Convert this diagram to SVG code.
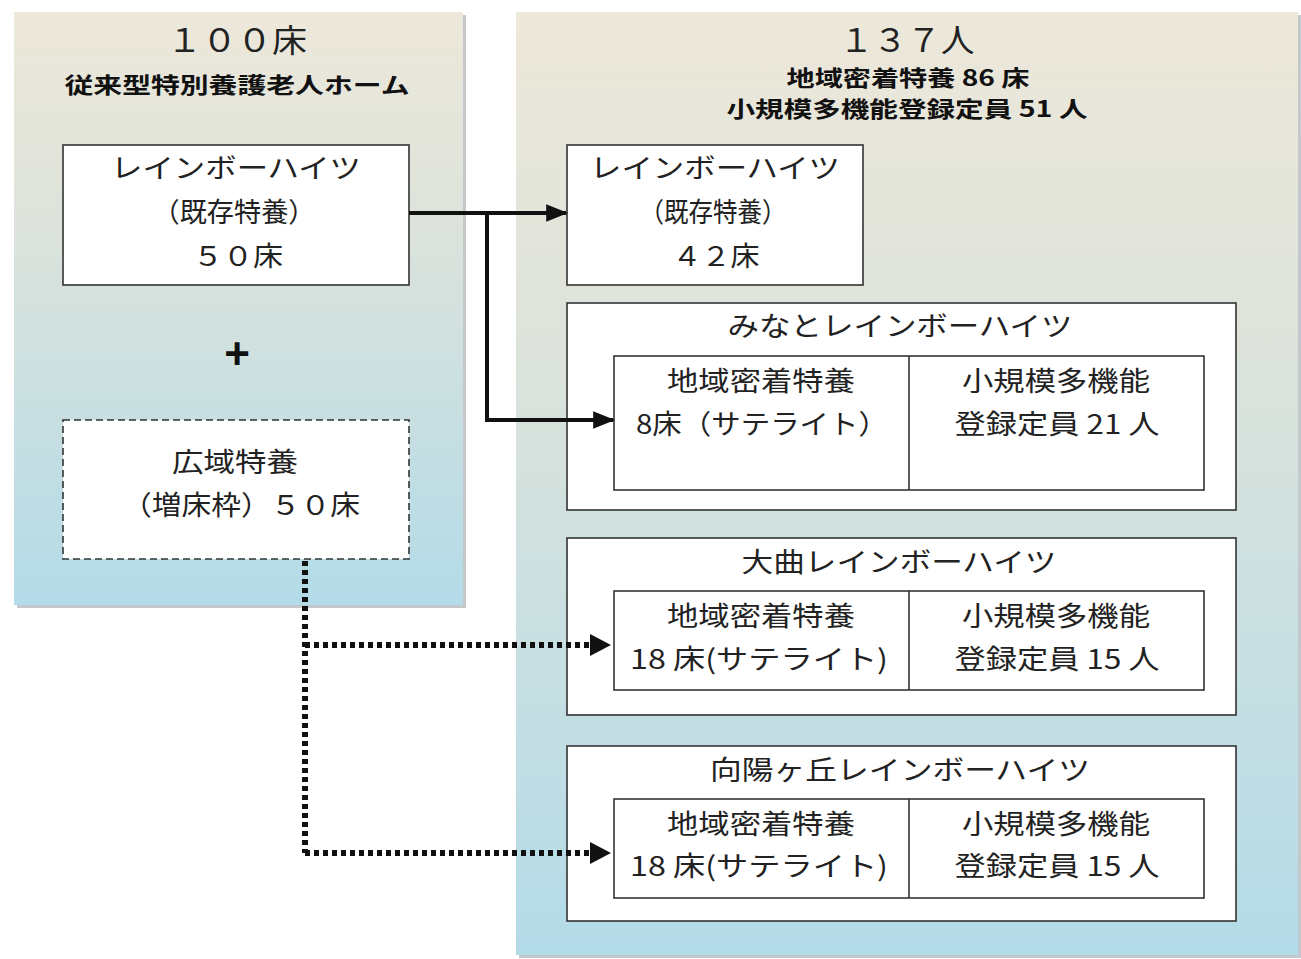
<svg xmlns="http://www.w3.org/2000/svg" width="1301" height="959" viewBox="0 0 1301 959">
<defs>
<linearGradient id="pg" x1="0" y1="0" x2="0" y2="1">
<stop offset="0" stop-color="#ede8da"/>
<stop offset="0.35" stop-color="#dde3db"/>
<stop offset="1" stop-color="#b3dbe8"/>
</linearGradient>
<marker id="ahs" viewBox="0 0 10 10" refX="9" refY="5" markerWidth="22" markerHeight="22" markerUnits="userSpaceOnUse" orient="auto">
<path d="M0,1 L10,5 L0,9 z" fill="#111"/>
</marker>
</defs>
<style>
.panel{fill:url(#pg);}
.shadow{fill:#9aa4a8;opacity:0.6;}
.box{fill:#fff;stroke:#333;stroke-width:1.6;}
.dbox{fill:#fff;stroke:#333;stroke-width:1.6;stroke-dasharray:7 4;}
.t{font-family:"Noto Sans CJK JP","Noto Sans CJK SC",sans-serif;fill:#222;text-anchor:middle;font-size:27px;}
.b{font-family:"Noto Sans CJK JP","Noto Sans CJK SC",sans-serif;fill:#111;text-anchor:middle;font-weight:bold;font-size:22px;}
.h{font-family:"Noto Sans CJK JP","Noto Sans CJK SC",sans-serif;fill:#222;text-anchor:middle;font-size:32px;}
.solid{fill:none;stroke:#111;stroke-width:4;}
.dot{fill:none;stroke:#111;stroke-width:6;stroke-dasharray:5 4;}
</style>
<rect width="1301" height="959" fill="#fff"/>

<g id="left-panel">
<rect class="shadow" x="17" y="15" width="449" height="593"/>
<rect class="panel" x="14" y="12" width="449" height="593"/>
<text class="h" x="237" y="52" textLength="140" lengthAdjust="spacingAndGlyphs">１００床</text>
<text class="b" x="237" y="93" font-size="25" textLength="345" lengthAdjust="spacingAndGlyphs">従来型特別養護老人ホーム</text>
<text x="237" y="369" font-family="Liberation Sans, sans-serif" font-size="44" font-weight="bold" text-anchor="middle" fill="#111">+</text>
</g>

<g id="right-panel">
<rect class="shadow" x="519" y="15" width="782" height="943"/>
<rect class="panel" x="516" y="12" width="782" height="943"/>
<text class="h" x="907" y="52" textLength="135" lengthAdjust="spacingAndGlyphs">１３７人</text>
<text class="b" x="908" y="86" textLength="243" lengthAdjust="spacingAndGlyphs">地域密着特養 86 床</text>
<text class="b" x="907" y="117" textLength="361" lengthAdjust="spacingAndGlyphs">小規模多機能登録定員 51 人</text>
</g>

<g id="rainbow-existing-50">
<rect class="box" x="63" y="145" width="346" height="140"/>
<text class="t" x="236" y="178" textLength="250" lengthAdjust="spacingAndGlyphs">レインボーハイツ</text>
<text class="t" x="234" y="222" textLength="163" lengthAdjust="spacingAndGlyphs">（既存特養）</text>
<text class="t" x="238" y="266" textLength="90" lengthAdjust="spacingAndGlyphs">５０床</text>
</g>

<g id="wide-area-50">
<rect class="dbox" x="63" y="420" width="346" height="139"/>
<text class="t" x="235" y="472" textLength="126" lengthAdjust="spacingAndGlyphs">広域特養</text>
<text class="t" x="241" y="515" textLength="238" lengthAdjust="spacingAndGlyphs">（増床枠）５０床</text>
</g>

<g id="rainbow-existing-42">
<rect class="box" x="567" y="145" width="296" height="140"/>
<text class="t" x="715" y="178" textLength="250" lengthAdjust="spacingAndGlyphs">レインボーハイツ</text>
<text class="t" x="713" y="222" textLength="147" lengthAdjust="spacingAndGlyphs">（既存特養）</text>
<text class="t" x="716" y="266" textLength="87" lengthAdjust="spacingAndGlyphs">４２床</text>
</g>

<g id="minato">
<rect class="box" x="567" y="303" width="669" height="207"/>
<text class="t" x="900" y="336" textLength="345" lengthAdjust="spacingAndGlyphs">みなとレインボーハイツ</text>
<rect class="box" x="614" y="356" width="590" height="134"/>
<line x1="909" y1="356" x2="909" y2="490" stroke="#333" stroke-width="1.6"/>
<text class="t" x="761" y="391" textLength="188" lengthAdjust="spacingAndGlyphs">地域密着特養</text>
<text class="t" x="762" y="434" textLength="252" lengthAdjust="spacingAndGlyphs">8床（サテライト）</text>
<text class="t" x="1056" y="391" textLength="188" lengthAdjust="spacingAndGlyphs">小規模多機能</text>
<text class="t" x="1057" y="434" textLength="205" lengthAdjust="spacingAndGlyphs">登録定員 21 人</text>
</g>

<g id="omagari">
<rect class="box" x="567" y="538" width="669" height="177"/>
<text class="t" x="899" y="572" textLength="315" lengthAdjust="spacingAndGlyphs">大曲レインボーハイツ</text>
<rect class="box" x="614" y="591" width="590" height="99"/>
<line x1="909" y1="591" x2="909" y2="690" stroke="#333" stroke-width="1.6"/>
<text class="t" x="761" y="626" textLength="188" lengthAdjust="spacingAndGlyphs">地域密着特養</text>
<text class="t" x="759" y="669" textLength="258" lengthAdjust="spacingAndGlyphs">18 床(サテライト)</text>
<text class="t" x="1056" y="626" textLength="188" lengthAdjust="spacingAndGlyphs">小規模多機能</text>
<text class="t" x="1057" y="669" textLength="205" lengthAdjust="spacingAndGlyphs">登録定員 15 人</text>
</g>

<g id="hinatagaoka">
<rect class="box" x="567" y="746" width="669" height="175"/>
<text class="t" x="900" y="780" textLength="380" lengthAdjust="spacingAndGlyphs">向陽ヶ丘レインボーハイツ</text>
<rect class="box" x="614" y="799" width="590" height="99"/>
<line x1="909" y1="799" x2="909" y2="898" stroke="#333" stroke-width="1.6"/>
<text class="t" x="761" y="834" textLength="188" lengthAdjust="spacingAndGlyphs">地域密着特養</text>
<text class="t" x="759" y="876" textLength="258" lengthAdjust="spacingAndGlyphs">18 床(サテライト)</text>
<text class="t" x="1056" y="834" textLength="188" lengthAdjust="spacingAndGlyphs">小規模多機能</text>
<text class="t" x="1057" y="876" textLength="205" lengthAdjust="spacingAndGlyphs">登録定員 15 人</text>
</g>

<g id="connectors">
<polyline class="solid" points="409,213 566,213" marker-end="url(#ahs)"/>
<polyline class="solid" points="487,213 487,420 613,420" marker-end="url(#ahs)"/>
<polyline class="dot" points="305,561 305,853"/>
<polyline class="dot" points="305,645 590,645"/>
<path d="M590,634 L611,645 L590,656 z" fill="#111"/>
<polyline class="dot" points="305,853 590,853"/>
<path d="M590,842 L611,853 L590,864 z" fill="#111"/>
</g>
</svg>
